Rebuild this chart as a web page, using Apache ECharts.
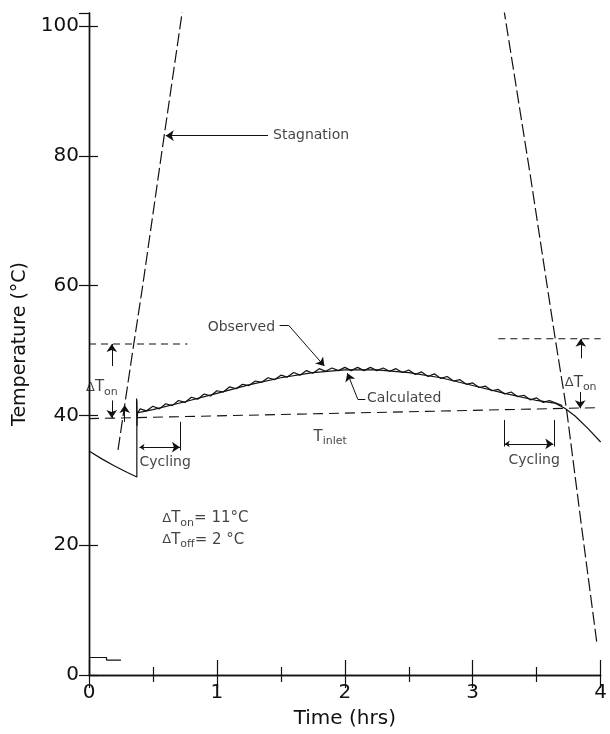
<!DOCTYPE html>
<html>
<head>
<meta charset="utf-8">
<script src="https://cdn.jsdelivr.net/npm/echarts@6/dist/echarts.min.js"></script>
<style>
html, body { margin: 0; padding: 0; background: #fff; }
#chart { width: 610px; height: 734px; }
</style>
</head>
<body>
<div id="chart"></div>
<script>
// calculated collector outlet temperature (solid), incl. the jump when the pump starts
const calcHours = [0, 0.1, 0.2, 0.3, 0.374, 0.374, 0.374, 0.5, 0.75, 1.0, 1.25, 1.5, 1.75, 2.0, 2.25, 2.5, 2.75, 3.0, 3.25, 3.5, 3.64, 3.72, 3.8, 3.9, 4.0];
const calcTemp = [34.5, 33.3, 32.2, 31.2, 30.5, 42.3, 40.4, 40.9, 42.1, 43.4, 44.7, 45.8, 46.6, 47.0, 47.0, 46.6, 45.8, 44.6, 43.4, 42.3, 41.9, 41.1, 39.9, 38.0, 35.9];

// observed (jagged)
const obsHours = [0.372, 0.376, 0.372, 0.376, 0.372, 0.376, 0.38, 0.40, 0.45, 0.50, 0.55, 0.60, 0.65, 0.70, 0.75, 0.80, 0.85, 0.90, 0.95, 1.00, 1.05, 1.10, 1.15, 1.20, 1.25, 1.30, 1.35, 1.40, 1.45, 1.50, 1.55, 1.60, 1.65, 1.70, 1.75, 1.80, 1.85, 1.90, 1.95, 2.00, 2.05, 2.10, 2.15, 2.20, 2.25, 2.30, 2.35, 2.40, 2.45, 2.50, 2.55, 2.60, 2.65, 2.70, 2.75, 2.80, 2.85, 2.90, 2.95, 3.00, 3.05, 3.10, 3.15, 3.20, 3.25, 3.30, 3.35, 3.40, 3.45, 3.50, 3.55, 3.60, 3.65, 3.70];
const obsTemp = [42.6, 38.4, 42.2, 38.8, 42.0, 39.4, 40.4, 41.0, 40.7, 41.4, 41.0, 41.8, 41.5, 42.3, 42.0, 42.8, 42.5, 43.3, 43.0, 43.8, 43.6, 44.4, 44.1, 44.8, 44.6, 45.3, 45.1, 45.8, 45.5, 46.2, 45.9, 46.6, 46.2, 46.9, 46.5, 47.2, 46.8, 47.3, 46.9, 47.4, 46.9, 47.4, 46.9, 47.4, 46.9, 47.3, 46.8, 47.2, 46.6, 47.0, 46.3, 46.7, 46.0, 46.4, 45.7, 46.0, 45.3, 45.5, 44.8, 45.0, 44.3, 44.5, 43.8, 44.0, 43.3, 43.6, 42.9, 43.1, 42.4, 42.7, 42.0, 42.3, 41.9, 41.5];

// stagnation runs (long dash)
const stagLeftHours = [0.227, 0.35, 0.42, 0.565, 0.735];
const stagLeftTemp = [34.7, 51.0, 60.0, 80.0, 103];
const stagRightHours = [3.24, 3.45, 3.645, 3.733, 3.85, 3.97];
const stagRightTemp = [103, 77.0, 51.8, 41.0, 23.0, 5.0];

// inlet temperature and the pump-on thresholds (short dash)
const inletHours = [0, 4];
const inletTemp = [39.5, 41.2];
const onLeftHours = [0, 0.77];
const onLeftTemp = [51.0, 51.0];
const onRightHours = [3.2, 4];
const onRightTemp = [51.8, 51.8];

// small trace near the bottom left
const lowHours = [0, 0.137, 0.137, 0.25];
const lowTemp = [2.7, 2.7, 2.3, 2.3];

const xTicks = [0, 1, 2, 3, 4];
const yTicks = [0, 20, 40, 60, 80, 100];

// annotation arrows (tip at the second point), leader pieces, brackets
const arrows = [
	[[1.40, 83.1], [0.6, 83.1]],
	[[1.56, 53.9], [1.84, 47.6]],
	[[2.10, 42.55], [2.02, 46.5]],
	[[0.178, 47.6], [0.178, 51.0]],
	[[0.178, 42.3], [0.178, 39.6]],
	[[0.279, 39.0], [0.279, 41.6]],
	[[3.845, 48.8], [3.845, 51.8]],
	[[3.84, 43.6], [3.84, 41.1]]
];
const doubleArrows = [
	[[0.395, 35.1], [0.711, 35.1]],
	[[3.25, 35.6], [3.63, 35.6]]
];
const plainLines = [
	[[1.49, 53.9], [1.56, 53.9]],
	[[2.16, 42.55], [2.10, 42.55]],
	[[0.711, 39.0], [0.711, 34.6]],
	[[3.243, 39.3], [3.243, 35.2]],
	[[3.637, 39.3], [3.637, 35.2]]
];
const notes = [
	{ at: [1.439, 83.1], text: 'Stagnation' },
	{ at: [0.928, 53.6], text: 'Observed' },
	{ at: [2.174, 42.55], text: 'Calculated' },
	{ at: [1.756, 36.7], text: '{t|T}{s|inlet}' },
	{ at: [-0.023, 44.3], text: '{d|Δ}{t|T}{s|on}' },
	{ at: [3.72, 45.0], text: '{d|Δ}{t|T}{s|on}' },
	{ at: [0.395, 32.8], text: 'Cycling' },
	{ at: [3.28, 33.0], text: 'Cycling' },
	{ at: [0.573, 24.1], text: '{d|Δ}{t|T}{s|on}{t|= 11°C}' },
	{ at: [0.573, 20.8], text: '{d|Δ}{t|T}{s|off}{t|= 2 °C}' }
];

const INK = '#111';
const FONT = "'DejaVu Sans', sans-serif";

const zip = (xs, ys) => xs.map((x, i) => [x, ys[i]]);

function lineSeries(name, xs, ys, type, width) {
	return {
		name: name,
		type: 'line',
		data: zip(xs, ys),
		showSymbol: false,
		silent: true,
		lineStyle: { color: INK, width: width || 1.2, type: type || 'solid' },
		z: 3
	};
}

function segmentSeries(name, list, symbol) {
	return {
		name: name,
		type: 'lines',
		coordinateSystem: 'cartesian2d',
		silent: true,
		symbol: symbol,
		symbolSize: [5, 8],
		lineStyle: { color: INK, width: 1, opacity: 1, curveness: 0 },
		data: list.map(c => ({ coords: c })),
		z: 4
	};
}

const chart = echarts.init(document.getElementById('chart'), null, { renderer: 'canvas' });

const xBase = {
	type: 'value',
	min: 0,
	max: 4,
	interval: 1,
	axisLine: { show: true, lineStyle: { color: INK, width: 1.4 } },
	axisTick: { show: true, inside: true, length: 15, lineStyle: { color: INK, width: 1.2 } },
	minorTick: { show: true, splitNumber: 2, length: 8, lineStyle: { color: INK, width: 1.2 } },
	splitLine: { show: false }
};
const yBase = {
	type: 'value',
	min: 0,
	max: 102,
	interval: 20,
	axisLine: { show: true, lineStyle: { color: INK, width: 1.4 } },
	axisTick: { show: true, inside: true, length: 9, lineStyle: { color: INK, width: 1.2 } },
	splitLine: { show: false }
};

const option = {
	animation: false,
	backgroundColor: '#fff',
	grid: { left: 89, right: 4, top: 13, bottom: 58, containLabel: false },
	xAxis: [
		Object.assign({}, xBase, {
			position: 'bottom',
			name: 'Time (hrs)',
			nameLocation: 'middle',
			nameGap: 34,
			nameTextStyle: { fontFamily: FONT, fontSize: 20, color: INK },
			axisLabel: {
				fontFamily: FONT, fontSize: 20, color: INK, margin: 8,
				formatter: v => xTicks.indexOf(v) >= 0 ? String(v) : ''
			}
		}),
		Object.assign({}, xBase, {
			position: 'top',
			axisTick: { show: true, inside: true, length: 13, lineStyle: { color: INK, width: 1.2 } },
			minorTick: { show: true, splitNumber: 2, length: 7, lineStyle: { color: INK, width: 1.2 } },
			axisLabel: { show: false }
		})
	],
	yAxis: [
		Object.assign({}, yBase, {
			position: 'left',
			name: 'Temperature (°C)',
			nameLocation: 'middle',
			nameRotate: 90,
			nameGap: 56,
			nameTextStyle: { fontFamily: FONT, fontSize: 19, color: INK },
			axisLabel: {
				fontFamily: FONT, fontSize: 20, color: INK, margin: 10,
				showMaxLabel: false,
				formatter: v => yTicks.indexOf(v) >= 0 ? String(v) : ''
			}
		}),
		Object.assign({}, yBase, {
			position: 'right',
			axisTick: { show: true, inside: true, length: 10, lineStyle: { color: INK, width: 1.2 } },
			axisLabel: { show: false }
		})
	],
	series: [
		lineSeries('Calculated', calcHours, calcTemp, 'solid', 1.2),
		lineSeries('Observed', obsHours, obsTemp, 'solid', 1.2),
		lineSeries('Stagnation left', stagLeftHours, stagLeftTemp, [13, 4], 1.2),
		lineSeries('Stagnation right', stagRightHours, stagRightTemp, [13, 4], 1.2),
		lineSeries('T inlet', inletHours, inletTemp, [10, 6], 1.1),
		lineSeries('Ton left', onLeftHours, onLeftTemp, [7, 5], 1.1),
		lineSeries('Ton right', onRightHours, onRightTemp, [7, 5], 1.1),
		lineSeries('low', lowHours, lowTemp, 'solid', 1.2),
		segmentSeries('arrows', arrows, ['none', 'arrow']),
		segmentSeries('double arrows', doubleArrows, ['arrow', 'arrow']),
		segmentSeries('plain', plainLines, ['none', 'none']),
		{
			name: 'notes',
			type: 'scatter',
			symbolSize: 0,
			silent: true,
			clip: false,
			z: 5,
			data: notes.map(n => ({
				value: n.at,
				label: {
					show: true,
					position: 'right',
					distance: 0,
					formatter: n.text,
					fontFamily: FONT,
					fontSize: 14,
					color: INK,
					rich: {
						d: { fontFamily: FONT, fontSize: 13, color: INK },
						t: { fontFamily: FONT, fontSize: 15, color: INK },
						s: { fontFamily: FONT, fontSize: 11, color: INK, padding: [9, 0, 0, 0] }
					}
				}
			}))
		}
	]
};

chart.setOption(option);
</script>
</body>
</html>
